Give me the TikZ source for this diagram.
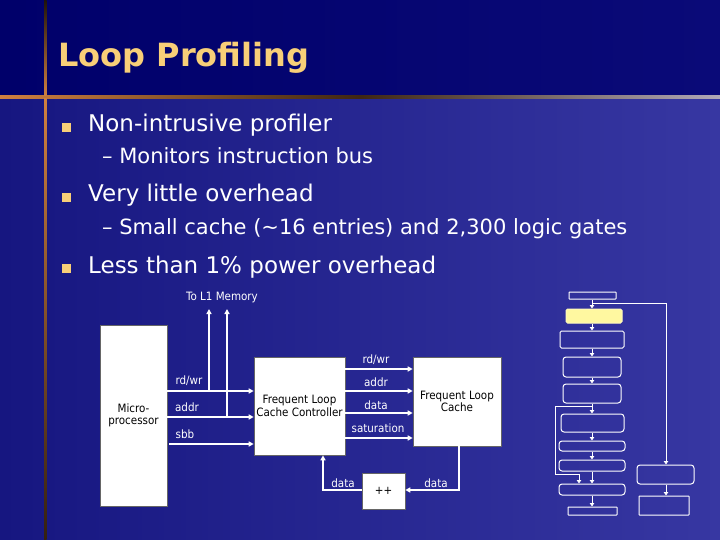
\documentclass[tikz,border=0pt]{standalone}
\usepackage{fontspec}
\setmainfont{DejaVu Sans}
\newfontfamily\diagfont{DejaVu Sans Condensed}
\usetikzlibrary{arrows.meta}
\definecolor{topnavy}{HTML}{00006A}
\definecolor{topnavyR}{HTML}{0A0A78}
\definecolor{bgL}{HTML}{161680}
\definecolor{bgR}{HTML}{3737A2}
\definecolor{titleC}{HTML}{F8CF78}
\definecolor{copper}{HTML}{D08040}
\definecolor{lineGrey}{HTML}{B0A8B8}
\definecolor{hiYellow}{HTML}{FFF8A0}
\tikzset{
  bulletsq/.style={fill=titleC, minimum size=9pt, inner sep=0pt},
  mainline/.style={anchor=base west, text=white, font=\fontsize{23}{26}\selectfont, inner sep=0pt},
  subline/.style={anchor=base west, text=white, font=\fontsize{21}{24}\selectfont, inner sep=0pt},
  blk/.style={draw=black!60, fill=white, line width=0.6pt, inner sep=1pt, align=center, font=\diagfont\fontsize{11.5}{12.5}\selectfont},
  lbl/.style={text=white, font=\diagfont\fontsize{11.5}{12.5}\selectfont, inner sep=0pt},
  arr/.style={draw=white, line width=2pt, -{Triangle[length=5pt,width=5pt]}},
  fbox/.style={draw=white, line width=1pt, rounded corners=1.5pt, inner sep=0pt},
  farr/.style={draw=white, line width=1pt, -{Triangle[length=3.5pt,width=4.5pt]}},
}
\begin{document}
\begin{tikzpicture}[x=1pt,y=-1pt]
\useasboundingbox (0,0) rectangle (720,540);
% background
\shade[left color=topnavy, right color=topnavyR] (0,0) rectangle (720,97);
\shade[left color=bgL, right color=bgR] (0,97) rectangle (720,540);
% decorative lines
\shade[left color=copper, right color=lineGrey, middle color=black!70!copper] (0,96) rectangle (720,98.5);
\shade[top color=black!85!copper, bottom color=copper] (44,0) rectangle (46.5,96);
\shade[top color=copper, bottom color=black!75!copper] (44,98.5) rectangle (46.5,540);
% title
\node[anchor=base west, inner sep=0pt, text=titleC, font=\fontsize{32}{36}\selectfont\bfseries] (title) at (58,67) {Loop Profiling};
% bullets
\node[bulletsq] (b1) at (66.5,127.5) {};
\node[bulletsq] (b2) at (66.5,197.5) {};
\node[bulletsq] (b3) at (66.5,268.5) {};
\node[mainline] (l1) at (88,132) {Non-intrusive profiler};
\node[subline] (l2) at (102,164) {– Monitors instruction bus};
\node[mainline] (l3) at (88,202) {Very little overhead};
\node[subline] (l4) at (102,234) {– Small cache ({\char"7E}16 entries) and 2,300 logic gates};
\node[mainline] (l5) at (88,273) {Less than 1\% power overhead};
% block diagram
\node[lbl] (tol1) at (222,298) {To L1 Memory};
\node[blk, minimum width=67pt, minimum height=181pt] (mp) at (133.5,415.5) {Micro-\\processor};
\node[blk, minimum width=91pt, minimum height=98pt] (flcc) at (299.5,406) {Frequent Loop\\Cache Controller};
\node[blk, minimum width=88pt, minimum height=89pt] (flc) at (457,401.5) {Frequent Loop\\Cache};
\node[blk, minimum width=43pt, minimum height=36pt] (inc) at (383.5,491) {++};
\coordinate (l1a) at (209,309);
\coordinate (l1b) at (227,309);
\coordinate (j1) at (209,391);
\coordinate (j2) at (227,417);
% micro -> flcc
\draw[arr] (mp.east |- j1) -- (flcc.west |- j1);
\draw[arr] (mp.east |- j2) -- (flcc.west |- j2);
\draw[arr] ([xshift=2pt]mp.east |- 0,444) -- (flcc.west |- 0,444);
\draw[arr] (j1) -- (l1a);
\draw[arr] (j2) -- (l1b);
\node[lbl] (t1) at (189,381) {rd/wr};
\node[lbl] (t2) at (187,407) {addr};
\node[lbl] (t3) at (185,434) {sbb};
% flcc -> flc
\draw[arr] (flcc.east |- 0,369) -- (flc.west |- 0,369);
\draw[arr] (flcc.east |- 0,391) -- (flc.west |- 0,391);
\draw[arr] (flcc.east |- 0,413) -- (flc.west |- 0,413);
\draw[arr] (flcc.east |- 0,438) -- (flc.west |- 0,438);
\node[lbl] (t4) at (376,360) {rd/wr};
\node[lbl] (t5) at (376,382) {addr};
\node[lbl] (t6) at (376,405) {data};
\node[lbl] (t7) at (378,428) {saturation};
% feedback
\coordinate (c1) at (459,490);
\coordinate (c2) at (323,490);
\draw[arr] (flc.south -| c1) -- (c1) -- (inc.east |- c1);
\draw[arr] (inc.west |- c2) -- (c2) -- (flcc.south -| c2);
\node[lbl] (t8) at (436,483) {data};
\node[lbl] (t9) at (343,483) {data};
% flowchart
\node[fbox, minimum width=47pt, minimum height=7pt, rounded corners=0.5pt] (f1) at (592.5,295.5) {};
\node[fbox, fill=hiYellow, draw=hiYellow!70!white, minimum width=56pt, minimum height=14pt] (f2) at (594,316) {};
\node[fbox, minimum width=64pt, minimum height=17pt] (f3) at (592,339.5) {};
\node[fbox, minimum width=58pt, minimum height=20pt, rounded corners=3pt] (f4) at (592,367) {};
\node[fbox, minimum width=58pt, minimum height=19pt, rounded corners=3pt] (f5) at (592,393.5) {};
\node[fbox, minimum width=63pt, minimum height=18pt, rounded corners=3pt] (f6) at (592.5,423) {};
\node[fbox, minimum width=66pt, minimum height=10pt, rounded corners=3pt] (f7) at (592,446) {};
\node[fbox, minimum width=66pt, minimum height=11pt, rounded corners=3pt] (f8) at (592,465.5) {};
\node[fbox, minimum width=66pt, minimum height=11pt, rounded corners=3pt] (f9) at (592,489.5) {};
\node[fbox, minimum width=49pt, minimum height=8pt, rounded corners=0.5pt] (f10) at (592.5,511) {};
\node[fbox, minimum width=57pt, minimum height=19pt, rounded corners=3pt] (r1) at (665.5,474.5) {};
\node[fbox, minimum width=50pt, minimum height=19pt, rounded corners=0.5pt] (r2) at (664,505.5) {};
\draw[farr] (f1.south -| 592,0) -- (f2.north -| 592,0);
\draw[farr] (f2.south -| 592,0) -- (f3.north -| 592,0);
\draw[farr] (f3.south -| 592,0) -- (f4.north -| 592,0);
\draw[farr] (f4.south -| 592,0) -- (f5.north -| 592,0);
\draw[farr] (f5.south -| 592,0) -- (f6.north -| 592,0);
\draw[farr] (f6.south -| 592,0) -- (f7.north -| 592,0);
\draw[farr] (f7.south -| 592,0) -- (f8.north -| 592,0);
\draw[farr] (f8.south -| 592,0) -- (f9.north -| 592,0);
\draw[farr] (f9.south -| 592,0) -- (f10.north -| 592,0);
\draw[farr] (r1.south -| 666,0) -- (r2.north -| 666,0);
\coordinate (lp1) at (592,303);
\coordinate (lp2) at (666,303);
\draw[farr] (lp1) -- (lp2) -- (r1.north -| lp2);
\coordinate (lq1) at (592,406);
\coordinate (lq2) at (555,406);
\coordinate (lq3) at (555,474);
\coordinate (lq4) at (579,474);
\draw[farr] (lq1) -- (lq2) -- (lq3) -- (lq4) -- (f9.north -| lq4);
\end{tikzpicture}
\end{document}
